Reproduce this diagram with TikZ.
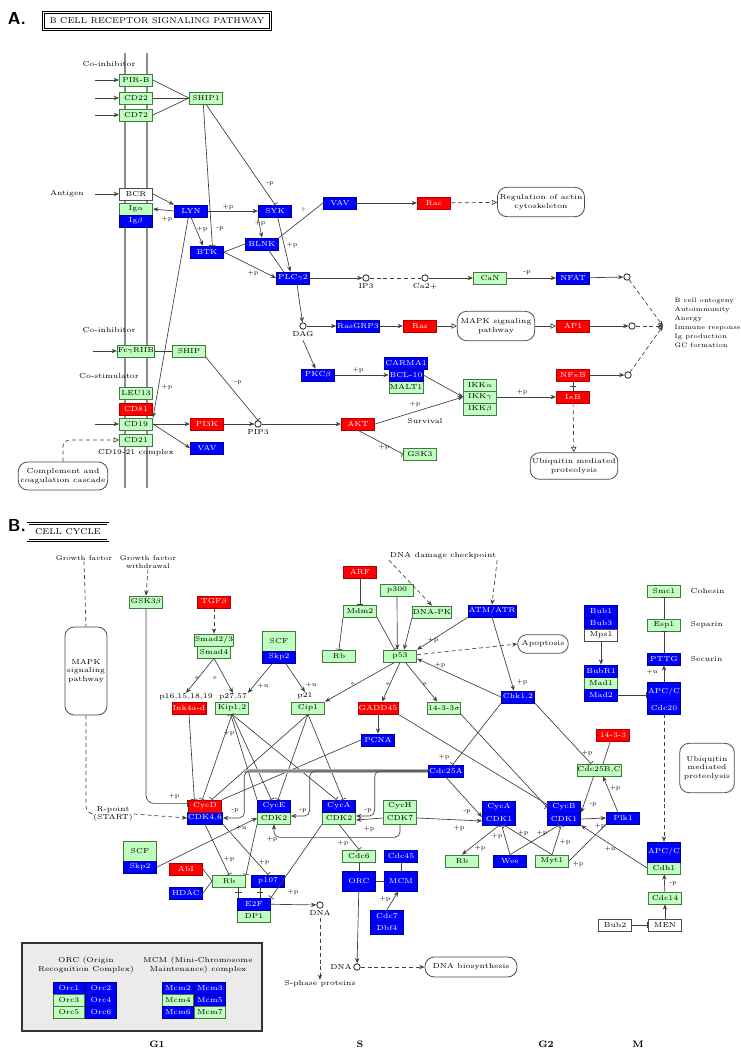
\documentclass[tikz,border=0pt]{standalone}
\usepackage{xcolor}
\definecolor{geneGreen}{RGB}{191,255,191}
\definecolor{geneLine}{RGB}{70,120,70}
\definecolor{geneBlue}{RGB}{0,0,255}
\definecolor{geneRed}{RGB}{255,0,0}
\colorlet{edgeCol}{black!75}
\colorlet{mbrCol}{black!45}
\usepackage{tikz}
\usetikzlibrary{arrows.meta, positioning, calc}
\newcommand{\bindline}[2]{%
  \draw[lin] (#1) -- (#2);
  \coordinate (bm) at ($(#1)!.5!(#2)$);
  \draw[lin] ([xshift=-2.5pt]bm) -- ([xshift=2.5pt]bm);}

\begin{document}
\begin{tikzpicture}[x=0.75pt, y=-0.75pt, >={Stealth[length=4pt,width=3.2pt]},
  every node/.style={font=\fontsize{5.4}{6.4}\selectfont},
  gene/.style={rectangle, minimum width=25pt, minimum height=9pt, inner sep=0.4pt, line width=0.5pt},
  gbox/.style={gene, fill=geneGreen, draw=geneLine},
  bbox/.style={gene, fill=geneBlue, draw=geneBlue!60!black, text=white},
  rbox/.style={gene, fill=geneRed, draw=geneRed!70!black, text=white},
  wbox/.style={gene, fill=white, draw=black!70},
  tall/.style={minimum height=15pt},
  cpd/.style={circle, draw=black!85, fill=white, minimum size=4.8pt, inner sep=0pt, line width=0.6pt},
  mapbox/.style={draw=black!70, fill=white, rounded corners=7pt, align=center, inner sep=1.5pt, line width=0.6pt},
  note/.style={align=center, inner sep=0.5pt},
  lbl/.style={font=\fontsize{4.6}{5}\selectfont, inner sep=0.3pt},
  lin/.style={draw=edgeCol, line width=0.5pt},
  act/.style={lin, ->},
  inh/.style={lin, -{Bar[width=5pt]}},
  ind/.style={act, dash pattern=on 3pt off 2.2pt},
  opn/.style={lin, -{Triangle[open, length=4pt, width=4pt]}},
  dopn/.style={opn, dash pattern=on 3pt off 2.2pt},
  phase/.style={font=\bfseries\fontsize{7}{8}\selectfont}]
\useasboundingbox (0,0) rectangle (740,1050);

% ---------------- A: B cell receptor ----------------
\node[font=\sffamily\bfseries\fontsize{13}{13}\selectfont] (tagA) at (17,18) {A.};
\node[draw, double, double distance=1pt, minimum width=170pt, minimum height=12.5pt,
  font=\fontsize{6.3}{7}\selectfont] (titleA) at (157,21) {B CELL RECEPTOR SIGNALING PATHWAY};
\foreach \mx in {125,147} \draw[line width=2.2pt, mbrCol] (\mx,53) -- (\mx,488);

\foreach \n/\x/\y/\t in {pirb/136/80/PIR-B, cd22/136/98/CD22, cd72/136/115/CD72, ship1/206/98/SHIP1,
  iga/136/209/Ig$\alpha$, fcgr/136/351/Fc$\gamma$RIIB, ship/189/351/SHIP, leu/136/393/LEU13,
  cd19/136/424/CD19, cd21/136/440/CD21, can/490/278/CaN, malt/406/387/MALT1,
  ikka/480/385/IKK$\alpha$, ikkg/480/397/IKK$\gamma$, ikkb/480/409/IKK$\beta$, gska/420/454/GSK3}
  \node[gbox] (\n) at (\x,\y) {\t};
\foreach \n/\x/\y/\t in {igb/136/221/Ig$\beta$, lyn/191/211/LYN, syk/275/211/SYK, vav/340/203/VAV,
  btk/207/252/BTK, blnk/262/244/BLNK, plcg/293/278/PLC$\gamma$2, nfat/573/278/NFAT,
  rasgrp/358/326/RasGRP3, pkcb/318/375/PKC$\beta$, carma/406/363/CARMA1, bcl/406/375/BCL-10,
  vavb/207/448/VAV}
  \node[bbox] (\n) at (\x,\y) {\t};
\foreach \n/\x/\y/\t in {rac/434/203/Rac, ras/420/326/Ras, ap1/573/326/AP1, nfkb/573/375/NF$\kappa$B,
  ikb/573/397/I$\kappa$B, cd81/136/409/CD81, pi3k/207/424/PI3K, akt/358/424/AKT}
  \node[rbox] (\n) at (\x,\y) {\t};
\node[wbox] (bcr) at (136,194) {BCR};

\node[cpd, label={[inner sep=1pt]below:IP3}] (ip3) at (366,278) {};
\node[cpd, label={[inner sep=1pt]below:Ca2+}] (ca) at (425,278) {};
\node[cpd, label={[inner sep=1pt]below:DAG}] (dag) at (303,326) {};
\node[cpd, label={[inner sep=1pt]below:PIP3}] (pip3) at (258,424) {};
\node[cpd] (cnfat) at (627,277) {};
\node[cpd] (cap1) at (632,326) {};
\node[cpd] (cnfkb) at (628,375) {};
\coordinate (tgt) at (663,326);

\node[mapbox, minimum width=58pt, minimum height=22pt] (actin) at (541,202) {Regulation of actin\\cytoskeleton};
\node[mapbox, minimum width=58pt, minimum height=22pt] (mapka) at (496,326) {MAPK signaling\\pathway};
\node[mapbox, minimum width=58pt, minimum height=20pt] (ubqa) at (574,466) {Ubiquitin mediated\\proteolysis};
\node[mapbox, minimum width=67pt, minimum height=21pt] (compl) at (63,476) {Complement and\\coagulation cascade};

\node[note] (coinhA) at (109,64) {Co-inhibitor};
\node[note] (antigen) at (67,194) {Antigen};
\node[note] (coinhB) at (109,330) {Co-inhibitor};
\node[note] (costim) at (109,376) {Co-stimulator};
\node[note] (cdcx) at (136,453) {CD19-21 complex};
\node[note] (surv) at (425,421) {Survival};
\node[anchor=west, align=left, font=\fontsize{4.8}{6.8}\selectfont] (outc) at (670,323)
  {B cell ontogeny\\Autoimmunity\\Anergy\\Immune response\\Ig production\\GC formation};

\foreach \n in {pirb,cd22,cd72,bcr,fcgr,cd19}{
  \path (\n.west) ++(-24,0) coordinate (from\n);
  \draw[act] (from\n) -- (\n.west);
}
\foreach \n in {pirb,cd22,cd72} \draw[lin] (\n.east) -- (ship1.west);
\draw[act] (bcr.east) -- (lyn.north west);
\draw[act] (lyn.west) -- (iga.east);
\draw[act] (lyn.east) -- (syk.west);
\draw[act] (lyn.south) -- ([xshift=-3pt]btk.north);
\draw[act] ([xshift=-2pt]lyn.south) -- (cd19.north east);
\draw[inh] (ship1.south) -- (syk.north);
\draw[inh] ([xshift=-2pt]ship1.south) -- ([xshift=4pt]btk.north);
\draw[act] (syk.south west) -- (blnk.north);
\draw[act] ([xshift=2pt]syk.south) -- ([xshift=-2pt]plcg.north);
\draw[lin] (btk.east) -- (blnk.west);
\draw[act] (btk.east) -- (plcg.west);
\draw[lin] ([xshift=5pt]blnk.south) -- ([xshift=-7pt]plcg.north);
\draw[lin] (blnk.north east) -- (vav.west);
\draw[act] (vav) -- (rac);
\draw[dopn] (rac) -- (actin);
\draw[act] (plcg) -- (ip3);
\draw[lin, dash pattern=on 3pt off 2.2pt] (ip3) -- (ca);
\draw[act] (ca) -- (can);
\draw[act] (can) -- (nfat);
\draw[act] (nfat) -- (cnfat);
\draw[ind] (cnfat) -- (tgt);
\draw[act] ([xshift=3pt]plcg.south) -- (dag);
\draw[act] (dag) -- (rasgrp);
\draw[act] (rasgrp) -- (ras);
\draw[opn] (ras) -- (mapka);
\draw[opn] (mapka) -- (ap1);
\draw[act] (ap1) -- (cap1);
\draw[ind] (cap1) -- (tgt);
\draw[act] ([yshift=-8pt]dag.south) -- ([xshift=-2pt]pkcb.north);
\draw[act] (pkcb) -- (bcl);
\draw[act] (bcl.east) -- (ikkg.west);
\draw[act] (akt.east) -- (ikkg.west);
\draw[act] (ikkg) -- (ikb);
\bindline{nfkb.south}{ikb.north}
\draw[act] (nfkb) -- (cnfkb);
\draw[ind] (cnfkb) -- (tgt);
\draw[dopn] (ikb) -- (ubqa);
\draw[lin] (fcgr) -- (ship);
\draw[inh] (ship.south east) -- (pip3.north);
\draw[act] (cd19) -- (pi3k);
\draw[act] (cd19.east) -- (vavb.west);
\draw[act] (pi3k) -- (pip3);
\draw[act] (pip3) -- (akt);
\draw[inh] (akt.south) -- (gska.west);
\draw[dopn, rounded corners=5pt] (compl.north) |- (cd21.west);

\foreach \x/\y/\t [count=\i] in {167/219/+p, 228/207/+p, 202/229/+p, 220/229/-p, 270/184/-p,
  260/223/+p, 292/245/+p, 253/273/+p, 303/210/?, 527/273/-p, 358/370/+p, 415/404/+p,
  522/392/+p, 167/387/+p, 238/383/-p, 384/447/+p}
  \node[lbl] (la\i) at (\x,\y) {\t};

% ---------------- B: cell cycle ----------------
\node[font=\sffamily\bfseries\fontsize{13}{13}\selectfont] (tagB) at (17,525) {B.};
\node[draw, double, double distance=1pt, minimum width=60pt, minimum height=12.5pt,
  font=\fontsize{6.3}{7}\selectfont] (titleB) at (68,532) {CELL CYCLE};

\foreach \n/\x/\y/\t in {gsk3b/146/602/GSK3$\beta$, smad23/214/640/{Smad2/3}, smad4/214/652/Smad4,
  kip/232/708/{Kip1,2}, mdm2/360/611/Mdm2, rba/339/656/Rb, p300/397/590/p300, dnapk/432/612/DNA-PK,
  p53/400/656/p53, cip1/308/708/Cip1, sig/444/708/14-3-3$\sigma$, cdk2e/274/818/CDK2,
  cdk2a/339/818/CDK2, cych/400/806/CycH, cdk7/400/818/CDK7, cdc6/359/856/Cdc6, dp1/254/916/DP1,
  rbb/229/881/Rb, rbc/462/861/Rb, myt1/552/861/Myt1, cdc25bc/599/770/{Cdc25B,C},
  smc1/664/591/Smc1, esp1/664/625/Esp1, mad1/601/683/Mad1, cdh1/664/868/Cdh1, cdc14/665/898/Cdc14}
  \node[gbox] (\n) at (\x,\y) {\t};
\node[gbox, tall] (scfa) at (279,641) {SCF};
\node[gbox, tall] (scfb) at (140,851) {SCF};
\foreach \n/\x/\y/\t in {atm/492/611/{ATM/ATR}, skpa/279/657/Skp2, pcna/378/740/PCNA,
  cdc25a/446/771/Cdc25A, cyce/274/806/CycE, cyca/339/806/CycA, cdk46/205/818/{CDK4,6},
  cdc45/401/856/Cdc45, cdc7/387/916/Cdc7, dbf4/387/928/Dbf4, e2f/254/904/E2F, p107/268/881/p107,
  hdac/186/893/HDAC, skpb/140/867/Skp2, chk/518/697/{Chk1,2}, cycak/499/807/CycA,
  cdk1a/499/819/CDK1, cycb/564/807/CycB, cdk1b/564/819/CDK1, plk1/623/818/Plk1, wee/510/861/Wee,
  pttg/664/659/PTTG, cdc20/664/708/Cdc20, bub1/601/611/Bub1, bub3/601/623/Bub3,
  bubr1/601/671/BubR1, mad2/601/695/Mad2}
  \node[bbox] (\n) at (\x,\y) {\t};
\foreach \n/\x/\y/\t in {orc/359/881/ORC, mcm/401/881/MCM, apca/664/692/{APC/C}, apcb/664/852/{APC/C}}
  \node[bbox, tall] (\n) at (\x,\y) {\t};
\foreach \n/\x/\y/\t in {arf/360/572/ARF, tgfb/214/602/TGF$\beta$, ink/189/708/Ink4a-d,
  gadd/378/708/GADD45, cycd/205/806/CycD, abl/186/869/AbI, s1433/613/735/14-3-3}
  \node[rbox] (\n) at (\x,\y) {\t};
\foreach \n/\x/\y/\t in {mps1/601/635/Mps1, men/665/925/MEN, bub2/615/925/Bub2}
  \node[wbox] (\n) at (\x,\y) {\t};

\node[cpd, label={[inner sep=1pt]below:DNA}] (dnaa) at (320,905) {};
\node[cpd, label={[inner sep=1pt]left:DNA}] (dnab) at (357,967) {};
\node[mapbox, minimum width=31pt, minimum height=66pt] (mapkb) at (86,671) {MAPK\\signaling\\pathway};
\node[mapbox, minimum width=38pt, minimum height=14pt] (apopt) at (543,644) {Apoptosis};
\node[mapbox, minimum width=41pt, minimum height=37pt] (ubqb) at (707,768) {Ubiquitin\\mediated\\proteolysis};
\node[mapbox, minimum width=69pt, minimum height=15pt] (dnabio) at (471,967) {DNA biosynthesis};

\node[note, font=\fontsize{5}{6}\selectfont] (gf) at (84,558) {Growth factor};
\node[note, font=\fontsize{5}{6}\selectfont] (gfw) at (148,562) {Growth factor\\withdrawal};
\node[note] (ddc) at (443,556) {DNA damage checkpoint};
\node[note] (p16) at (186,697) {p16,15,18,19};
\node[note] (p27) at (233,697) {p27,57};
\node[note] (p21) at (305,696) {p21};
\node[note] (rpt) at (113,814) {R-point\\(START)};
\node[note] (sph) at (320,984) {S-phase proteins};
\foreach \n/\y/\t in {smc1/591/Cohesin, esp1/625/Separin, pttg/659/Securin}
  \node[anchor=west] (\n T) at (686,\y) {\t};

% growth signals and G1
\draw[lin, dash pattern=on 3pt off 2.2pt] (gf.south) -- (mapkb.north);
\draw[lin, dash pattern=on 3pt off 2.2pt, rounded corners=6pt] (mapkb.south) |- (rpt.west);
\draw[ind] (rpt.east) -- (cdk46.west);
\draw[ind] (gfw.south) -- (gsk3b.north);
\draw[inh, rounded corners=6pt] (gsk3b.south) |- ([yshift=2pt]cycd.west);
\draw[ind] (tgfb) -- (smad23);
\draw[act] (smad4.south) -- (p16.north);
\draw[act] (smad4.south) -- (p27.north);
\draw[act] ([xshift=-5pt]skpa.south) -- (p27.north east);
\draw[act] ([xshift=5pt]skpa.south) -- (p21.north);
\draw[inh] (ink.south) -- ([xshift=-8pt]cycd.north);
\draw[inh] (kip.south) -- ([xshift=-2pt]cycd.north);
\draw[inh] (kip.south) -- ([xshift=-2pt]cyce.north);
\draw[inh] (kip.south) -- ([xshift=-2pt]cyca.north);
\draw[inh] (cip1.south) -- ([xshift=5pt]cycd.north);
\draw[inh] (cip1.south) -- ([xshift=3pt]cyce.north);
\draw[inh] (cip1.south) -- ([xshift=3pt]cyca.north);
\draw[inh] (cyce.north west) -- ([xshift=-1pt]kip.south);
\draw[lin] (pcna.west) -- (cycd.north east);

% p53 branch
\draw[inh] (arf) -- (mdm2);
\draw[inh] (mdm2.south west) -- (rba.north);
\draw[inh] (mdm2.south east) -- ([xshift=-4pt]p53.north);
\draw[act] (p300.south) -- ([xshift=-2pt]p53.north);
\draw[act] (dnapk.south west) -- ([xshift=3pt]p53.north);
\draw[act] (atm.south west) -- (p53.north east);
\draw[act] (chk.west) -- ([yshift=-2pt]p53.east);
\draw[ind] ([yshift=1pt]p53.east) -- (apopt.west);
\draw[ind] (ddc.south west) -- (dnapk.north);
\draw[ind] (ddc.south east) -- (atm.north);
\draw[act] (atm.south) -- ([xshift=-3pt]chk.north);
\draw[act] ([xshift=-4pt]p53.south) -- (cip1.north east);
\draw[act] (p53.south) -- ([xshift=3pt]gadd.north);
\draw[act] ([xshift=4pt]p53.south) -- ([xshift=-5pt]sig.north);
\draw[act] (gadd) -- (pcna);
\draw[inh] (gadd.south east) -- ([yshift=2pt]cycb.west);
\draw[inh] (sig.south east) -- (cycb.west);
\draw[inh] (chk.south west) -- ([xshift=5pt]cdc25a.north);
\draw[inh] (chk.south east) -- ([xshift=-6pt]cdc25bc.north);
\draw[lin] ([xshift=-2pt]s1433.south) -- ([xshift=3pt]cdc25bc.north);

% CDK activation
\draw[line width=2.6pt, black!30] (cdc25a.west) -- ([xshift=16pt]cdk46.east |- cdc25a.west);
\draw[act, rounded corners=4pt] (cdc25a.west) -| ([xshift=16pt]cdk46.east) -- (cdk46.east);
\draw[act, rounded corners=4pt] (cdc25a.west) -| ([xshift=14pt, yshift=1.5pt]cdk2e.east) -- ([yshift=1.5pt]cdk2e.east);
\draw[act, rounded corners=4pt] (cdc25a.west) -| ([xshift=14pt, yshift=1.5pt]cdk2a.east) -- ([yshift=1.5pt]cdk2a.east);
\draw[act] (cdk7.west) -- ([yshift=-1.5pt]cdk2a.east);
\draw[act, rounded corners=4pt] (cdk7.south) -- ++(0,13) -| (cdk2e.south);
\draw[act] (cdk7.east) -- ([yshift=-1.5pt]cdk1a.west);
\draw[act] (cdc25a.south) -- ([yshift=1.5pt]cdk1a.west);
\draw[act] (skpb.east) -- (cdk2e.west);
\draw[inh] (cdk46.south) -- (rbb.north);
\draw[inh] (cdk2e.south west) -- (rbb.north east);
\draw[inh] (cdk46.south east) -- (p107.north);
\draw[lin] (abl.east) -- (rbb.west);
\draw[lin] (hdac.east) -- (rbb.west);
\bindline{[xshift=7pt]rbb.south}{[xshift=7pt]rbb.south |- e2f.north}
\bindline{[xshift=-6pt]p107.south}{[xshift=-6pt]p107.south |- e2f.north}
\draw[inh] (cdk2a.south west) -- (e2f.north east);
\draw[act] (e2f) -- (dnaa);
\draw[ind] ([yshift=-7pt]dnaa.south) -- (sph.north);

% S phase
\draw[inh] (cdk2a.south) -- (cdc6.north);
\draw[lin] (cdc6) -- (orc);
\draw[lin] (orc) -- (mcm);
\draw[lin] (cdc45) -- (mcm);
\draw[act] (cdc7.north) -- ([xshift=-2pt]mcm.south);
\draw[act] (orc) -- (dnab);
\draw[ind] (dnab) -- (dnabio);

% G2 / M
\draw[act] (cdk1a.south) -- (rbc.north);
\draw[inh] (wee.north) -- ([xshift=2pt]cdk1a.south);
\draw[inh] (wee.north) -- ([xshift=-4pt]cdk1b.south);
\draw[inh] (myt1.north) -- ([xshift=4pt]cdk1a.south);
\draw[inh] (myt1.north) -- ([xshift=-2pt]cdk1b.south);
\draw[lin] (plk1.south west) -- (myt1.east);
\draw[act] (cdk1b.east) -- (plk1.west);
\draw[act] ([xshift=-4pt]plk1.north) -- ([xshift=3pt]cdc25bc.south);
\draw[act] ([xshift=-4pt]cdc25bc.south) -- (cdk1b.north east);
\draw[act] (cdh1.west) -- (cdk1b.south east);
\draw[act] (cdc14) -- (cdh1);
\draw[act] (men) -- (cdc14);
\draw[inh] (bub2) -- (men);
\draw[inh] (esp1) -- (smc1);
\draw[inh] (pttg) -- (esp1);
\draw[act] (apca) -- (pttg);
\draw[act] (mps1) -- (bubr1);
\draw[inh] (mad2.east) -- (mad2.east -| apca.west);
\draw[ind] (cdc20) -- (apcb);

\foreach \x/\y/\t [count=\i] in {174/796/+p, 197/678/e, 215/678/e, 263/686/+u, 311/685/+u,
  433/640/+p, 440/665/+p, 522/682/+p, 353/684/e, 388/684/e, 425/684/e, 444/757/+p, 587/753/+p,
  235/811/-p, 303/811/-p, 368/811/-p, 369/829/+p, 272/839/+p, 467/812/-p, 459/828/+p, 343/843/+p,
  385/899/+p, 293/892/+p, 229/859/+p, 264/862/+p, 241/828/+u, 229/733/+p, 480/848/+p, 497/836/+p,
  523/833/+p, 542/833/+p, 565/842/+p, 578/864/+p, 600/826/+p, 615/788/+p, 593/805/-p, 610/849/+u,
  673/884/-p, 652/672/+u}
  \node[lbl] (lb\i) at (\x,\y) {\t};

% legend
\node[draw=black!80, line width=1.4pt, fill=black!8, minimum width=180pt, minimum height=66pt] (legend) at (142,987) {};
\node[note] (orcT) at (86,965) {ORC (Origin\\Recognition Complex)};
\node[note] (mcmT) at (198,965) {MCM (Mini-Chromosome\\Maintenance) complex};
\foreach \n/\x/\y/\st in {1/69/988/bbox, 2/101/988/bbox, 3/69/1000/gbox, 4/101/1000/bbox, 5/69/1012/gbox, 6/101/1012/bbox}
  \node[\st, minimum width=23pt] (orc\n) at (\x,\y) {Orc\n};
\foreach \n/\x/\y/\st in {2/178/988/bbox, 3/210/988/bbox, 4/178/1000/gbox, 5/210/1000/bbox, 6/178/1012/bbox, 7/210/1012/gbox}
  \node[\st, minimum width=23pt] (mcm\n) at (\x,\y) {Mcm\n};

\foreach \n/\x/\t in {g1/157/G1, s/360/S, g2/546/G2, m/638/M}
  \node[phase] (ph\n) at (\x,1044) {\t};
\end{tikzpicture}
\end{document}
